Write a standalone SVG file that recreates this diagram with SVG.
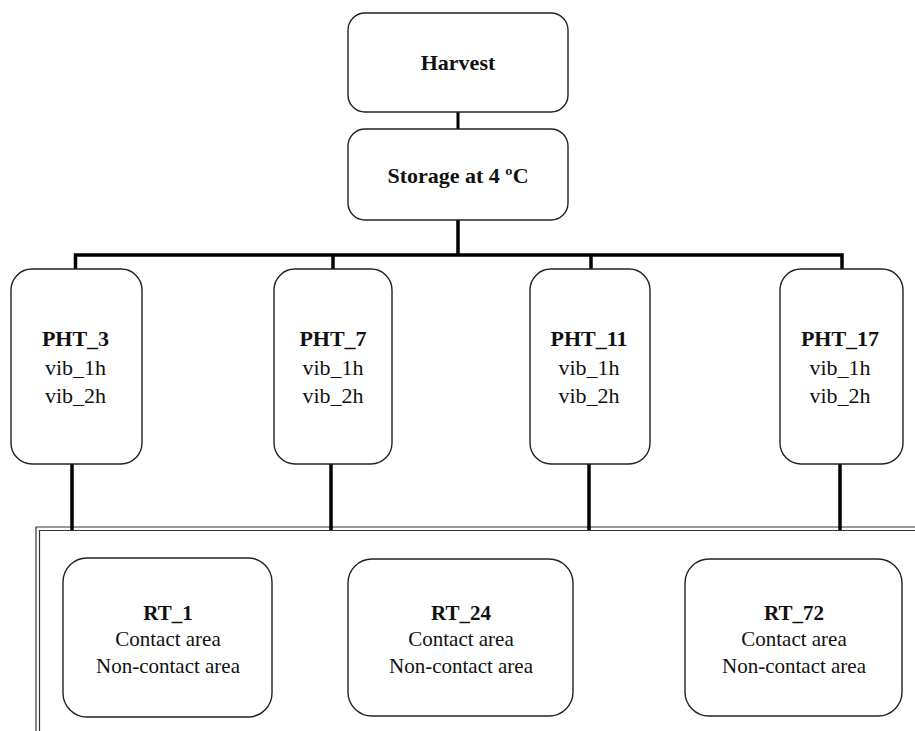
<svg xmlns="http://www.w3.org/2000/svg" width="915" height="731" viewBox="0 0 915 731">
<style>
.box{fill:#fff;stroke:#222;stroke-width:1.4}
.t{font-family:"Liberation Serif","Times New Roman",serif;fill:#111;text-anchor:middle}
.b{font-weight:bold;font-size:22px}
.r{font-size:22px}
.rr{font-size:21px}
.rb{font-weight:bold;font-size:21px}
.c{fill:none;stroke:#000;stroke-width:3.5}
.f{fill:none;stroke:#333;stroke-width:1.2}
</style>
<rect width="915" height="731" fill="#fff"/>
<g id="frame">
<path class="f" d="M36 740 V527 H920"/>
<path class="f" d="M39.5 740 V530.5 H920"/>
</g>
<g id="connectors">
<line class="c" x1="458" y1="112" x2="458" y2="129" style="stroke-width:3"/>
<line class="c" x1="458" y1="220" x2="458" y2="256"/>
<polyline class="c" points="75.5,269 75.5,255 842,255 842,269"/>
<line class="c" x1="333" y1="255" x2="333" y2="269"/>
<line class="c" x1="591" y1="255" x2="591" y2="269"/>
<line class="c" x1="72" y1="462" x2="72" y2="530"/>
<line class="c" x1="331" y1="462" x2="331" y2="530"/>
<line class="c" x1="589" y1="462" x2="589" y2="530"/>
<line class="c" x1="840" y1="462" x2="840" y2="530"/>
</g>
<g id="harvest">
<rect class="box" x="348" y="13" width="220" height="99" rx="17"/>
<text class="t b" x="458" y="70">Harvest</text>
</g>
<g id="storage">
<rect class="box" x="348" y="129" width="220" height="91" rx="17"/>
<text class="t b" x="458" y="183">Storage at 4 ºC</text>
</g>
<g id="pht3">
<rect class="box" x="11" y="269" width="131" height="195" rx="21"/>
<text class="t b" x="75.5" y="346">PHT_3</text>
<text class="t r" x="75.5" y="375">vib_1h</text>
<text class="t r" x="75.5" y="403">vib_2h</text>
</g>
<g id="pht7">
<rect class="box" x="274" y="269" width="118" height="195" rx="21"/>
<text class="t b" x="333" y="346">PHT_7</text>
<text class="t r" x="333" y="375">vib_1h</text>
<text class="t r" x="333" y="403">vib_2h</text>
</g>
<g id="pht11">
<rect class="box" x="530" y="269" width="120" height="195" rx="21"/>
<text class="t b" x="589" y="346">PHT_11</text>
<text class="t r" x="589" y="375">vib_1h</text>
<text class="t r" x="589" y="403">vib_2h</text>
</g>
<g id="pht17">
<rect class="box" x="780" y="269" width="123" height="195" rx="21"/>
<text class="t b" x="840" y="346">PHT_17</text>
<text class="t r" x="840" y="375">vib_1h</text>
<text class="t r" x="840" y="403">vib_2h</text>
</g>
<g id="rt1">
<rect class="box" x="63" y="558" width="209" height="159" rx="24"/>
<text class="t rb" x="168" y="620">RT_1</text>
<text class="t rr" x="168" y="646">Contact area</text>
<text class="t rr" x="168" y="673">Non-contact area</text>
</g>
<g id="rt24">
<rect class="box" x="348" y="559" width="225" height="157" rx="24"/>
<text class="t rb" x="461" y="620">RT_24</text>
<text class="t rr" x="461" y="646">Contact area</text>
<text class="t rr" x="461" y="673">Non-contact area</text>
</g>
<g id="rt72">
<rect class="box" x="685" y="559" width="217" height="157" rx="24"/>
<text class="t rb" x="794" y="620">RT_72</text>
<text class="t rr" x="794" y="646">Contact area</text>
<text class="t rr" x="794" y="673">Non-contact area</text>
</g>
</svg>
